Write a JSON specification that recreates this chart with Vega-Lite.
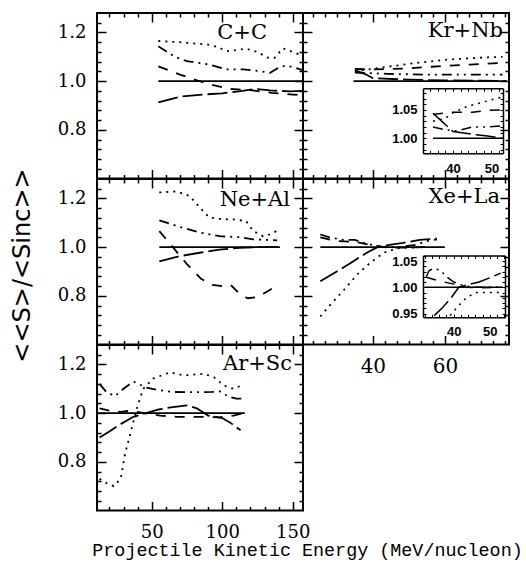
{
"$schema":"https://vega.github.io/schema/vega-lite/v6.json",
"background":"white",
"padding":{"left":8,"top":11,"right":2,"bottom":2},
"columns":2,"spacing":0,"bounds":"flush",
"config":{
 "view":{"stroke":"black","strokeWidth":2},
 "axis":{"grid":false,"domain":false,"ticks":true,"tickColor":"black","tickOpacity":1,"tickWidth":1.5,"labelColor":"black","titleColor":"black","labelFlush":false,"labelOverlap":false,"title":null},
 "point":{"opacity":0},
 "title":{"anchor":"end","frame":"group","baseline":"alphabetic","font":"DejaVu Serif","fontSize":21,"fontWeight":"normal","color":"black"}
},
"datasets":{
 "cc":[
  {"E":54.7,"r":1,"s":"solid"},{"E":157,"r":1,"s":"solid"},
  {"E":54.7,"r":1.165,"s":"dotted"},{"E":70,"r":1.16,"s":"dotted"},{"E":90,"r":1.15,"s":"dotted"},{"E":97,"r":1.14,"s":"dotted"},{"E":103,"r":1.123,"s":"dotted"},{"E":110,"r":1.128,"s":"dotted"},{"E":117,"r":1.133,"s":"dotted"},{"E":125,"r":1.12,"s":"dotted"},{"E":132,"r":1.097,"s":"dotted"},{"E":137,"r":1.095,"s":"dotted"},{"E":143,"r":1.135,"s":"dotted"},{"E":150,"r":1.12,"s":"dotted"},{"E":157,"r":1.105,"s":"dotted"},
  {"E":54.7,"r":1.143,"s":"dashdot"},{"E":66.5,"r":1.1,"s":"dashdot"},{"E":75,"r":1.082,"s":"dashdot"},{"E":91,"r":1.068,"s":"dashdot"},{"E":103,"r":1.048,"s":"dashdot"},{"E":115,"r":1.048,"s":"dashdot"},{"E":127,"r":1.041,"s":"dashdot"},{"E":134,"r":1.034,"s":"dashdot"},{"E":140,"r":1.055,"s":"dashdot"},{"E":145,"r":1.064,"s":"dashdot"},{"E":150,"r":1.058,"s":"dashdot"},{"E":157,"r":1.045,"s":"dashdot"},
  {"E":54.7,"r":1.061,"s":"dashed"},{"E":70,"r":1.027,"s":"dashed"},{"E":90,"r":0.988,"s":"dashed"},{"E":105,"r":0.968,"s":"dashed"},{"E":120,"r":0.963,"s":"dashed"},{"E":135,"r":0.952,"s":"dashed"},{"E":150,"r":0.945,"s":"dashed"},{"E":157,"r":0.943,"s":"dashed"},
  {"E":54.7,"r":0.913,"s":"longdash"},{"E":70,"r":0.936,"s":"longdash"},{"E":84,"r":0.944,"s":"longdash"},{"E":100,"r":0.95,"s":"longdash"},{"E":112,"r":0.958,"s":"longdash"},{"E":124,"r":0.968,"s":"longdash"},{"E":134,"r":0.962,"s":"longdash"},{"E":148,"r":0.958,"s":"longdash"},{"E":157,"r":0.96,"s":"longdash"}
 ],
 "ne":[
  {"E":55.4,"r":1,"s":"solid"},{"E":141,"r":1,"s":"solid"},
  {"E":55.4,"r":1.225,"s":"dotted"},{"E":67.7,"r":1.229,"s":"dotted"},{"E":77,"r":1.21,"s":"dotted"},{"E":84,"r":1.163,"s":"dotted"},{"E":91,"r":1.121,"s":"dotted"},{"E":100,"r":1.115,"s":"dotted"},{"E":108,"r":1.114,"s":"dotted"},{"E":117,"r":1.107,"s":"dotted"},{"E":122,"r":1.066,"s":"dotted"},{"E":129,"r":1.045,"s":"dotted"},{"E":134,"r":1.052,"s":"dotted"},{"E":139,"r":1.068,"s":"dotted"},
  {"E":55.4,"r":1.11,"s":"dashdot"},{"E":70,"r":1.083,"s":"dashdot"},{"E":84,"r":1.06,"s":"dashdot"},{"E":98,"r":1.045,"s":"dashdot"},{"E":112,"r":1.041,"s":"dashdot"},{"E":122,"r":1.032,"s":"dashdot"},{"E":130,"r":1.03,"s":"dashdot"},{"E":139,"r":1.028,"s":"dashdot"},
  {"E":55.4,"r":1.066,"s":"dashed"},{"E":65,"r":1.0,"s":"dashed"},{"E":75,"r":0.93,"s":"dashed"},{"E":85,"r":0.87,"s":"dashed"},{"E":93,"r":0.845,"s":"dashed"},{"E":100,"r":0.84,"s":"dashed"},{"E":106,"r":0.845,"s":"dashed"},{"E":112,"r":0.81,"s":"dashed"},{"E":118,"r":0.79,"s":"dashed"},{"E":125,"r":0.795,"s":"dashed"},{"E":131,"r":0.815,"s":"dashed"},{"E":136,"r":0.832,"s":"dashed"},
  {"E":55.4,"r":0.942,"s":"longdash"},{"E":70,"r":0.963,"s":"longdash"},{"E":84,"r":0.977,"s":"longdash"},{"E":98,"r":0.99,"s":"longdash"},{"E":112,"r":0.997,"s":"longdash"},{"E":125,"r":1.0,"s":"longdash"},{"E":141,"r":1.0,"s":"longdash"}
 ],
 "ar":[
  {"E":11.2,"r":1,"s":"solid"},{"E":116,"r":1,"s":"solid"},
  {"E":13,"r":0.73,"s":"dotted"},{"E":18,"r":0.712,"s":"dotted"},{"E":23,"r":0.7,"s":"dotted"},{"E":28,"r":0.73,"s":"dotted"},{"E":31,"r":0.83,"s":"dotted"},{"E":35,"r":0.92,"s":"dotted"},{"E":40,"r":1.03,"s":"dotted"},{"E":44,"r":1.1,"s":"dotted"},{"E":51,"r":1.142,"s":"dotted"},{"E":63,"r":1.168,"s":"dotted"},{"E":73,"r":1.155,"s":"dotted"},{"E":87,"r":1.162,"s":"dotted"},{"E":94,"r":1.148,"s":"dotted"},{"E":101,"r":1.114,"s":"dotted"},{"E":108,"r":1.1,"s":"dotted"},{"E":115,"r":1.117,"s":"dotted"},
  {"E":13,"r":1.12,"s":"dashdot"},{"E":18,"r":1.086,"s":"dashdot"},{"E":24,"r":1.07,"s":"dashdot"},{"E":30,"r":1.1,"s":"dashdot"},{"E":37,"r":1.13,"s":"dashdot"},{"E":46,"r":1.105,"s":"dashdot"},{"E":55,"r":1.095,"s":"dashdot"},{"E":65,"r":1.087,"s":"dashdot"},{"E":80,"r":1.086,"s":"dashdot"},{"E":93,"r":1.087,"s":"dashdot"},{"E":98,"r":1.09,"s":"dashdot"},{"E":105,"r":1.067,"s":"dashdot"},{"E":110,"r":1.06,"s":"dashdot"},{"E":116,"r":1.06,"s":"dashdot"},
  {"E":13,"r":1.02,"s":"dashed"},{"E":20,"r":1.01,"s":"dashed"},{"E":28,"r":1.005,"s":"dashed"},{"E":35,"r":1.01,"s":"dashed"},{"E":45,"r":1.0,"s":"dashed"},{"E":56,"r":0.99,"s":"dashed"},{"E":68,"r":0.985,"s":"dashed"},{"E":84,"r":0.985,"s":"dashed"},{"E":98,"r":0.983,"s":"dashed"},{"E":108,"r":0.99,"s":"dashed"},{"E":115,"r":1.0,"s":"dashed"},
  {"E":13,"r":0.9,"s":"longdash"},{"E":20,"r":0.925,"s":"longdash"},{"E":28,"r":0.955,"s":"longdash"},{"E":37,"r":0.985,"s":"longdash"},{"E":46,"r":1.0,"s":"longdash"},{"E":55,"r":1.015,"s":"longdash"},{"E":65,"r":1.025,"s":"longdash"},{"E":75,"r":1.032,"s":"longdash"},{"E":82,"r":1.02,"s":"longdash"},{"E":90,"r":0.99,"s":"longdash"},{"E":100,"r":0.98,"s":"longdash"},{"E":106,"r":0.96,"s":"longdash"},{"E":113,"r":0.93,"s":"longdash"}
 ],
 "kr":[
  {"E":34.6,"r":1,"s":"solid"},{"E":77.2,"r":1,"s":"solid"},
  {"E":35,"r":1.04,"s":"dotted"},{"E":42,"r":1.055,"s":"dotted"},{"E":52,"r":1.075,"s":"dotted"},{"E":61,"r":1.089,"s":"dotted"},{"E":72,"r":1.098,"s":"dotted"},{"E":76,"r":1.1,"s":"dotted"},
  {"E":35,"r":1.05,"s":"dashed"},{"E":40,"r":1.048,"s":"dashed"},{"E":49,"r":1.052,"s":"dashed"},{"E":58,"r":1.061,"s":"dashed"},{"E":67,"r":1.068,"s":"dashed"},{"E":76,"r":1.075,"s":"dashed"},
  {"E":35,"r":1.035,"s":"dashdot"},{"E":44,"r":1.03,"s":"dashdot"},{"E":54,"r":1.027,"s":"dashdot"},{"E":63,"r":1.027,"s":"dashdot"},{"E":76,"r":1.027,"s":"dashdot"},
  {"E":35,"r":1.045,"s":"longdash"},{"E":38,"r":1.028,"s":"longdash"},{"E":40,"r":1.012,"s":"longdash"},{"E":50,"r":1.006,"s":"longdash"},{"E":60,"r":1.003,"s":"longdash"},{"E":77,"r":1.001,"s":"longdash"}
 ],
 "krin":[
  {"E":34.8,"r":1,"s":"solid"},{"E":53,"r":1,"s":"solid"},
  {"E":34.8,"r":1.03,"s":"dotted"},{"E":38,"r":1.035,"s":"dotted"},{"E":40,"r":1.045,"s":"dotted"},{"E":44,"r":1.057,"s":"dotted"},{"E":48,"r":1.064,"s":"dotted"},{"E":53,"r":1.073,"s":"dotted"},
  {"E":34.8,"r":1.042,"s":"dashed"},{"E":40,"r":1.046,"s":"dashed"},{"E":45,"r":1.046,"s":"dashed"},{"E":49,"r":1.049,"s":"dashed"},{"E":53,"r":1.05,"s":"dashed"},
  {"E":34.8,"r":1.02,"s":"dashdot"},{"E":38,"r":1.015,"s":"dashdot"},{"E":41,"r":1.013,"s":"dashdot"},{"E":45,"r":1.02,"s":"dashdot"},{"E":49,"r":1.02,"s":"dashdot"},{"E":53,"r":1.022,"s":"dashdot"},
  {"E":34.8,"r":1.044,"s":"longdash"},{"E":37.4,"r":1.028,"s":"longdash"},{"E":40,"r":1.012,"s":"longdash"},{"E":45,"r":1.007,"s":"longdash"},{"E":49,"r":1.004,"s":"longdash"},{"E":53,"r":1.0,"s":"longdash"}
 ],
 "xe":[
  {"E":25.4,"r":1,"s":"solid"},{"E":60,"r":1,"s":"solid"},
  {"E":25.4,"r":0.715,"s":"dotted"},{"E":28,"r":0.76,"s":"dotted"},{"E":32,"r":0.825,"s":"dotted"},{"E":35.6,"r":0.887,"s":"dotted"},{"E":39.2,"r":0.935,"s":"dotted"},{"E":43,"r":0.977,"s":"dotted"},{"E":46.7,"r":0.995,"s":"dotted"},{"E":50,"r":0.998,"s":"dotted"},{"E":52.2,"r":0.997,"s":"dotted"},
  {"E":25.4,"r":0.86,"s":"longdash"},{"E":30,"r":0.9,"s":"longdash"},{"E":34.6,"r":0.942,"s":"longdash"},{"E":38.3,"r":0.977,"s":"longdash"},{"E":41,"r":0.998,"s":"longdash"},{"E":45,"r":1.01,"s":"longdash"},{"E":48.5,"r":1.018,"s":"longdash"},{"E":53,"r":1.03,"s":"longdash"},{"E":57.8,"r":1.035,"s":"longdash"},
  {"E":25.4,"r":1.052,"s":"dashdot"},{"E":28,"r":1.04,"s":"dashdot"},{"E":31.8,"r":1.03,"s":"dashdot"},{"E":35,"r":1.03,"s":"dashdot"},{"E":38,"r":1.015,"s":"dashdot"},{"E":41,"r":1.005,"s":"dashdot"},{"E":43,"r":1.0,"s":"dashdot"},{"E":47,"r":1.0,"s":"dashdot"},{"E":52,"r":1.01,"s":"dashdot"},{"E":55,"r":1.025,"s":"dashdot"},{"E":57.8,"r":1.032,"s":"dashdot"},
  {"E":25.4,"r":1.04,"s":"dashed"},{"E":30,"r":1.025,"s":"dashed"},{"E":35,"r":1.022,"s":"dashed"},{"E":39,"r":1.01,"s":"dashed"},{"E":43,"r":1.0,"s":"dashed"},{"E":47,"r":0.998,"s":"dashed"},{"E":52,"r":0.999,"s":"dashed"},{"E":55,"r":1.0,"s":"dashed"}
 ],
 "xein":[
  {"E":32,"r":1,"s":"solid"},{"E":53.5,"r":1,"s":"solid"},
  {"E":32.4,"r":1.02,"s":"dashdot"},{"E":33.2,"r":1.032,"s":"dashdot"},{"E":34.6,"r":1.036,"s":"dashdot"},{"E":36.4,"r":1.032,"s":"dashdot"},{"E":38,"r":1.02,"s":"dashdot"},{"E":40,"r":1.01,"s":"dashdot"},{"E":42.7,"r":1.003,"s":"dashdot"},{"E":46,"r":1.0,"s":"dashdot"},{"E":50,"r":1.0,"s":"dashdot"},{"E":53.5,"r":1.001,"s":"dashdot"},
  {"E":32.4,"r":1.019,"s":"dashed"},{"E":36,"r":1.012,"s":"dashed"},{"E":40,"r":1.006,"s":"dashed"},{"E":43,"r":1.0,"s":"dashed"},{"E":47,"r":0.999,"s":"dashed"},{"E":53.5,"r":1.0,"s":"dashed"},
  {"E":34.6,"r":0.946,"s":"longdash"},{"E":37,"r":0.962,"s":"longdash"},{"E":39.1,"r":0.978,"s":"longdash"},{"E":41.4,"r":1.0,"s":"longdash"},{"E":44,"r":1.005,"s":"longdash"},{"E":47,"r":1.01,"s":"longdash"},{"E":50,"r":1.018,"s":"longdash"},{"E":53,"r":1.027,"s":"longdash"},
  {"E":39,"r":0.946,"s":"dotted"},{"E":41.4,"r":0.965,"s":"dotted"},{"E":43.6,"r":0.981,"s":"dotted"},{"E":46.3,"r":0.99,"s":"dotted"},{"E":50,"r":0.99,"s":"dotted"},{"E":53.5,"r":0.99,"s":"dotted"}
 ]
},
"concat":[
 {"width":206,"height":165.5,
  "title":{"text":"C+C","offset":-31,"dx":-36},
  "data":{"name":"cc"},
  "resolve":{"axis":{"x":"independent","y":"independent"}},
  "layer":[
   {"mark":{"type":"line","strokeWidth":1.8,"color":"black"},
    "encoding":{
     "x":{"field":"E","type":"quantitative","scale":{"domain":[11.2,157.3],"nice":false,"zero":false},"axis":{"orient":"bottom","offset":-9,"tickSize":9,"labels":false,"values":[50,100,150]}},
     "y":{"field":"r","type":"quantitative","scale":{"domain":[0.6,1.28],"nice":false,"zero":false},"axis":{"orient":"left","offset":-9,"tickSize":9,"values":[0.8,1,1.2],"format":".1f","labelFont":"DejaVu Serif","labelFontSize":18,"labelPadding":11}},
     "strokeDash":{"field":"s","type":"nominal","legend":null,"scale":{"domain":["solid","dotted","dashdot","dashed","longdash"],"range":[[1,0],[2,5],[10,5,2,5,2,5],[10,9],[20,5]]}}}},
   {"mark":"point","encoding":{
     "x":{"field":"E","type":"quantitative","scale":{"domain":[11.2,157.3],"nice":false,"zero":false},"axis":{"orient":"bottom","offset":-4,"tickSize":4,"labels":false,"values":[20,30,40,60,70,80,90,110,120,130,140]}},
     "y":{"field":"r","type":"quantitative","scale":{"domain":[0.6,1.28],"nice":false,"zero":false},"axis":{"orient":"left","offset":-4,"tickSize":4,"labels":false,"values":[0.64,0.68,0.72,0.76,0.84,0.88,0.92,0.96,1.04,1.08,1.12,1.16,1.24]}}}},
   {"mark":"point","encoding":{
     "x":{"field":"E","type":"quantitative","scale":{"domain":[11.2,157.3],"nice":false,"zero":false},"axis":{"orient":"top","offset":-9,"tickSize":9,"labels":false,"values":[50,100,150]}},
     "y":{"field":"r","type":"quantitative","scale":{"domain":[0.6,1.28],"nice":false,"zero":false},"axis":{"orient":"right","offset":-9,"tickSize":9,"labels":false,"values":[0.8,1,1.2]}}}},
   {"mark":"point","encoding":{
     "x":{"field":"E","type":"quantitative","scale":{"domain":[11.2,157.3],"nice":false,"zero":false},"axis":{"orient":"top","offset":-4,"tickSize":4,"labels":false,"values":[20,30,40,60,70,80,90,110,120,130,140]}},
     "y":{"field":"r","type":"quantitative","scale":{"domain":[0.6,1.28],"nice":false,"zero":false},"axis":{"orient":"right","offset":-4,"tickSize":4,"labels":false,"values":[0.64,0.68,0.72,0.76,0.84,0.88,0.92,0.96,1.04,1.08,1.12,1.16,1.24]}}}}
  ]},
 {"width":206,"height":165.5,
  "title":{"text":"Kr+Nb","offset":-29,"dx":-6},
  "resolve":{"scale":{"x":"independent","y":"independent"},"axis":{"x":"independent","y":"independent"}},
  "layer":[
   {"data":{"name":"kr"},"mark":{"type":"line","strokeWidth":1.8,"color":"black"},
    "encoding":{
     "x":{"field":"E","type":"quantitative","scale":{"domain":[20.6,77.8],"nice":false,"zero":false},"axis":{"orient":"bottom","offset":-9,"tickSize":9,"labels":false,"values":[40,60]}},
     "y":{"field":"r","type":"quantitative","scale":{"domain":[0.6,1.28],"nice":false,"zero":false},"axis":{"orient":"left","offset":-9,"tickSize":9,"labels":false,"values":[0.8,1,1.2]}},
     "strokeDash":{"field":"s","type":"nominal","legend":null,"scale":{"domain":["solid","dotted","dashdot","dashed","longdash"],"range":[[1,0],[2,5],[10,5,2,5,2,5],[10,9],[20,5]]}}}},
   {"data":{"name":"kr"},"mark":"point","encoding":{
     "x":{"field":"E","type":"quantitative","scale":{"domain":[20.6,77.8],"nice":false,"zero":false},"axis":{"orient":"bottom","offset":-4,"tickSize":4,"labels":false,"values":[23.33,26.67,30,33.33,36.67,43.33,46.67,50,53.33,56.67,63.33,66.67,70,73.33,76.67]}},
     "y":{"field":"r","type":"quantitative","scale":{"domain":[0.6,1.28],"nice":false,"zero":false},"axis":{"orient":"left","offset":-4,"tickSize":4,"labels":false,"values":[0.64,0.68,0.72,0.76,0.84,0.88,0.92,0.96,1.04,1.08,1.12,1.16,1.24]}}}},
   {"data":{"name":"kr"},"mark":"point","encoding":{
     "x":{"field":"E","type":"quantitative","scale":{"domain":[20.6,77.8],"nice":false,"zero":false},"axis":{"orient":"top","offset":-9,"tickSize":9,"labels":false,"values":[40,60]}},
     "y":{"field":"r","type":"quantitative","scale":{"domain":[0.6,1.28],"nice":false,"zero":false},"axis":{"orient":"right","offset":-9,"tickSize":9,"labels":false,"values":[0.8,1,1.2]}}}},
   {"data":{"name":"kr"},"mark":"point","encoding":{
     "x":{"field":"E","type":"quantitative","scale":{"domain":[20.6,77.8],"nice":false,"zero":false},"axis":{"orient":"top","offset":-4,"tickSize":4,"labels":false,"values":[23.33,26.67,30,33.33,36.67,43.33,46.67,50,53.33,56.67,63.33,66.67,70,73.33,76.67]}},
     "y":{"field":"r","type":"quantitative","scale":{"domain":[0.6,1.28],"nice":false,"zero":false},"axis":{"orient":"right","offset":-4,"tickSize":4,"labels":false,"values":[0.64,0.68,0.72,0.76,0.84,0.88,0.92,0.96,1.04,1.08,1.12,1.16,1.24]}}}},
   {"data":{"name":"krin"},"mark":{"type":"line","strokeWidth":1.5,"color":"black"},
    "encoding":{
     "x":{"field":"E","type":"quantitative","scale":{"domain":[32.2,53],"range":[120,200],"nice":false,"zero":false},
          "axis":{"orient":"bottom","offset":-25.2,"ticks":false,"domain":true,"domainColor":"black","domainWidth":1.5,"values":[40,50],"labelFont":"Liberation Sans","labelFontSize":13,"labelFontWeight":"bold","labelPadding":9}},
     "y":{"field":"r","type":"quantitative","scale":{"domain":[0.9735,1.088],"range":[140.3,75.3],"nice":false,"zero":false},
          "axis":{"orient":"left","offset":-120,"ticks":false,"domain":true,"domainColor":"black","domainWidth":1.5,"values":[1,1.05],"format":".2f","labelFont":"Liberation Sans","labelFontSize":13,"labelFontWeight":"bold","labelPadding":6}},
     "strokeDash":{"field":"s","type":"nominal","legend":null,"scale":{"domain":["solid","dotted","dashdot","dashed","longdash"],"range":[[1,0],[2,5],[10,5,2,5,2,5],[10,9],[20,5]]}}}},
   {"data":{"name":"krin"},"mark":"point","encoding":{
     "x":{"field":"E","type":"quantitative","scale":{"domain":[32.2,53],"range":[120,200],"nice":false,"zero":false},"axis":{"orient":"bottom","offset":-28.2,"tickSize":3,"tickWidth":1,"labels":false,"values":[34,36,38,40,42,44,46,48,50,52]}},
     "y":{"field":"r","type":"quantitative","scale":{"domain":[0.9735,1.088],"range":[140.3,75.3],"nice":false,"zero":false},"axis":{"orient":"left","offset":-123,"tickSize":3,"tickWidth":1,"labels":false,"values":[0.98,0.99,1,1.01,1.02,1.03,1.04,1.05,1.06,1.07,1.08]}}}},
   {"data":{"name":"krin"},"mark":"point","encoding":{
     "x":{"field":"E","type":"quantitative","scale":{"domain":[32.2,53],"range":[120,200],"nice":false,"zero":false},"axis":{"orient":"top","offset":-75.3,"ticks":false,"labels":false,"domain":true,"domainColor":"black","domainWidth":1.5}},
     "y":{"field":"r","type":"quantitative","scale":{"domain":[0.9735,1.088],"range":[140.3,75.3],"nice":false,"zero":false},"axis":{"orient":"right","offset":-6,"ticks":false,"labels":false,"domain":true,"domainColor":"black","domainWidth":1.5}}}},
   {"data":{"name":"krin"},"mark":"point","encoding":{
     "x":{"field":"E","type":"quantitative","scale":{"domain":[32.2,53],"range":[120,200],"nice":false,"zero":false},"axis":{"orient":"top","offset":-78.3,"tickSize":3,"tickWidth":1,"labels":false,"values":[34,36,38,40,42,44,46,48,50,52]}},
     "y":{"field":"r","type":"quantitative","scale":{"domain":[0.9735,1.088],"range":[140.3,75.3],"nice":false,"zero":false},"axis":{"orient":"right","offset":-9,"tickSize":3,"tickWidth":1,"labels":false,"values":[0.98,0.99,1,1.01,1.02,1.03,1.04,1.05,1.06,1.07,1.08]}}}}
  ]},
 {"width":206,"height":165.5,
  "title":{"text":"Ne+Al","offset":-42,"dx":-13},
  "data":{"name":"ne"},
  "resolve":{"axis":{"x":"independent","y":"independent"}},
  "layer":[
   {"mark":{"type":"line","strokeWidth":1.8,"color":"black"},
    "encoding":{
     "x":{"field":"E","type":"quantitative","scale":{"domain":[11.2,157.3],"nice":false,"zero":false},"axis":{"orient":"bottom","offset":-9,"tickSize":9,"labels":false,"values":[50,100,150]}},
     "y":{"field":"r","type":"quantitative","scale":{"domain":[0.6,1.28],"nice":false,"zero":false},
          "axis":{"orient":"left","offset":-9,"tickSize":9,"values":[0.8,1,1.2],"format":".1f","labelFont":"DejaVu Serif","labelFontSize":18,"labelPadding":11,
                  "title":"<<S>/<Sinc>>","titleFont":"DejaVu Sans","titleFontSize":24,"titleFontWeight":"normal","titleAngle":-90,"titleAlign":"center","titleBaseline":"alphabetic","titleX":-77,"titleY":86}},
     "strokeDash":{"field":"s","type":"nominal","legend":null,"scale":{"domain":["solid","dotted","dashdot","dashed","longdash"],"range":[[1,0],[2,5],[10,5,2,5,2,5],[10,9],[20,5]]}}}},
   {"mark":"point","encoding":{
     "x":{"field":"E","type":"quantitative","scale":{"domain":[11.2,157.3],"nice":false,"zero":false},"axis":{"orient":"bottom","offset":-4,"tickSize":4,"labels":false,"values":[20,30,40,60,70,80,90,110,120,130,140]}},
     "y":{"field":"r","type":"quantitative","scale":{"domain":[0.6,1.28],"nice":false,"zero":false},"axis":{"orient":"left","offset":-4,"tickSize":4,"labels":false,"values":[0.64,0.68,0.72,0.76,0.84,0.88,0.92,0.96,1.04,1.08,1.12,1.16,1.24]}}}},
   {"mark":"point","encoding":{
     "x":{"field":"E","type":"quantitative","scale":{"domain":[11.2,157.3],"nice":false,"zero":false},"axis":{"orient":"top","offset":-9,"tickSize":9,"labels":false,"values":[50,100,150]}},
     "y":{"field":"r","type":"quantitative","scale":{"domain":[0.6,1.28],"nice":false,"zero":false},"axis":{"orient":"right","offset":-9,"tickSize":9,"labels":false,"values":[0.8,1,1.2]}}}},
   {"mark":"point","encoding":{
     "x":{"field":"E","type":"quantitative","scale":{"domain":[11.2,157.3],"nice":false,"zero":false},"axis":{"orient":"top","offset":-4,"tickSize":4,"labels":false,"values":[20,30,40,60,70,80,90,110,120,130,140]}},
     "y":{"field":"r","type":"quantitative","scale":{"domain":[0.6,1.28],"nice":false,"zero":false},"axis":{"orient":"right","offset":-4,"tickSize":4,"labels":false,"values":[0.64,0.68,0.72,0.76,0.84,0.88,0.92,0.96,1.04,1.08,1.12,1.16,1.24]}}}}
  ]},
 {"width":206,"height":165.5,
  "title":{"text":"Xe+La","offset":-29,"dx":-9},
  "resolve":{"scale":{"x":"independent","y":"independent"},"axis":{"x":"independent","y":"independent"}},
  "layer":[
   {"data":{"name":"xe"},"mark":{"type":"line","strokeWidth":1.8,"color":"black"},
    "encoding":{
     "x":{"field":"E","type":"quantitative","scale":{"domain":[20.6,77.8],"nice":false,"zero":false},"axis":{"orient":"bottom","offset":-9,"tickSize":9,"values":[40,60],"format":".0f","labelFont":"DejaVu Serif","labelFontSize":20,"labelPadding":12}},
     "y":{"field":"r","type":"quantitative","scale":{"domain":[0.6,1.28],"nice":false,"zero":false},"axis":{"orient":"left","offset":-9,"tickSize":9,"labels":false,"values":[0.8,1,1.2]}},
     "strokeDash":{"field":"s","type":"nominal","legend":null,"scale":{"domain":["solid","dotted","dashdot","dashed","longdash"],"range":[[1,0],[2,5],[10,5,2,5,2,5],[10,9],[20,5]]}}}},
   {"data":{"name":"xe"},"mark":"point","encoding":{
     "x":{"field":"E","type":"quantitative","scale":{"domain":[20.6,77.8],"nice":false,"zero":false},"axis":{"orient":"bottom","offset":-4,"tickSize":4,"labels":false,"values":[23.33,26.67,30,33.33,36.67,43.33,46.67,50,53.33,56.67,63.33,66.67,70,73.33,76.67]}},
     "y":{"field":"r","type":"quantitative","scale":{"domain":[0.6,1.28],"nice":false,"zero":false},"axis":{"orient":"left","offset":-4,"tickSize":4,"labels":false,"values":[0.64,0.68,0.72,0.76,0.84,0.88,0.92,0.96,1.04,1.08,1.12,1.16,1.24]}}}},
   {"data":{"name":"xe"},"mark":"point","encoding":{
     "x":{"field":"E","type":"quantitative","scale":{"domain":[20.6,77.8],"nice":false,"zero":false},"axis":{"orient":"top","offset":-9,"tickSize":9,"labels":false,"values":[40,60]}},
     "y":{"field":"r","type":"quantitative","scale":{"domain":[0.6,1.28],"nice":false,"zero":false},"axis":{"orient":"right","offset":-9,"tickSize":9,"labels":false,"values":[0.8,1,1.2]}}}},
   {"data":{"name":"xe"},"mark":"point","encoding":{
     "x":{"field":"E","type":"quantitative","scale":{"domain":[20.6,77.8],"nice":false,"zero":false},"axis":{"orient":"top","offset":-4,"tickSize":4,"labels":false,"values":[23.33,26.67,30,33.33,36.67,43.33,46.67,50,53.33,56.67,63.33,66.67,70,73.33,76.67]}},
     "y":{"field":"r","type":"quantitative","scale":{"domain":[0.6,1.28],"nice":false,"zero":false},"axis":{"orient":"right","offset":-4,"tickSize":4,"labels":false,"values":[0.64,0.68,0.72,0.76,0.84,0.88,0.92,0.96,1.04,1.08,1.12,1.16,1.24]}}}},
   {"data":{"name":"xein"},"mark":{"type":"line","strokeWidth":1.5,"color":"black"},
    "encoding":{
     "x":{"field":"E","type":"quantitative","scale":{"domain":[31.5,54.2],"range":[120,202],"nice":false,"zero":false},
          "axis":{"orient":"bottom","offset":-27.3,"ticks":false,"domain":true,"domainColor":"black","domainWidth":1.5,"values":[40,50],"labelFont":"Liberation Sans","labelFontSize":13,"labelFontWeight":"bold","labelPadding":8}},
     "y":{"field":"r","type":"quantitative","scale":{"domain":[0.943,1.0605],"range":[138.2,76.5],"nice":false,"zero":false},
          "axis":{"orient":"left","offset":-120,"ticks":false,"domain":true,"domainColor":"black","domainWidth":1.5,"values":[0.95,1,1.05],"format":".2f","labelFont":"Liberation Sans","labelFontSize":13,"labelFontWeight":"bold","labelPadding":6}},
     "strokeDash":{"field":"s","type":"nominal","legend":null,"scale":{"domain":["solid","dotted","dashdot","dashed","longdash"],"range":[[1,0],[2,5],[10,5,2,5,2,5],[10,9],[20,5]]}}}},
   {"data":{"name":"xein"},"mark":"point","encoding":{
     "x":{"field":"E","type":"quantitative","scale":{"domain":[31.5,54.2],"range":[120,202],"nice":false,"zero":false},"axis":{"orient":"bottom","offset":-30.3,"tickSize":3,"tickWidth":1,"labels":false,"values":[32,34,36,38,40,42,44,46,48,50,52,54]}},
     "y":{"field":"r","type":"quantitative","scale":{"domain":[0.943,1.0605],"range":[138.2,76.5],"nice":false,"zero":false},"axis":{"orient":"left","offset":-123,"tickSize":3,"tickWidth":1,"labels":false,"values":[0.95,0.96,0.97,0.98,0.99,1,1.01,1.02,1.03,1.04,1.05,1.06]}}}},
   {"data":{"name":"xein"},"mark":"point","encoding":{
     "x":{"field":"E","type":"quantitative","scale":{"domain":[31.5,54.2],"range":[120,202],"nice":false,"zero":false},"axis":{"orient":"top","offset":-76.5,"ticks":false,"labels":false,"domain":true,"domainColor":"black","domainWidth":1.5}},
     "y":{"field":"r","type":"quantitative","scale":{"domain":[0.943,1.0605],"range":[138.2,76.5],"nice":false,"zero":false},"axis":{"orient":"right","offset":-4,"ticks":false,"labels":false,"domain":true,"domainColor":"black","domainWidth":1.5}}}},
   {"data":{"name":"xein"},"mark":"point","encoding":{
     "x":{"field":"E","type":"quantitative","scale":{"domain":[31.5,54.2],"range":[120,202],"nice":false,"zero":false},"axis":{"orient":"top","offset":-79.5,"tickSize":3,"tickWidth":1,"labels":false,"values":[32,34,36,38,40,42,44,46,48,50,52,54]}},
     "y":{"field":"r","type":"quantitative","scale":{"domain":[0.943,1.0605],"range":[138.2,76.5],"nice":false,"zero":false},"axis":{"orient":"right","offset":-7,"tickSize":3,"tickWidth":1,"labels":false,"values":[0.95,0.96,0.97,0.98,0.99,1,1.01,1.02,1.03,1.04,1.05,1.06]}}}}
  ]},
 {"width":206,"height":165.5,
  "title":{"text":"Ar+Sc","offset":-30,"dx":-11},
  "data":{"name":"ar"},
  "resolve":{"axis":{"x":"independent","y":"independent"}},
  "layer":[
   {"mark":{"type":"line","strokeWidth":1.8,"color":"black"},
    "encoding":{
     "x":{"field":"E","type":"quantitative","scale":{"domain":[11.2,157.3],"nice":false,"zero":false},
          "axis":{"orient":"bottom","offset":-9,"tickSize":9,"values":[50,100,150],"labelFont":"DejaVu Serif","labelFontSize":18,"labelPadding":13,
                  "title":"Projectile Kinetic Energy (MeV/nucleon)","titleFont":"Liberation Mono","titleFontSize":18.4,"titleFontWeight":"normal","titleX":210,"titleY":54,"titleAlign":"center","titleBaseline":"alphabetic","titleAngle":0}},
     "y":{"field":"r","type":"quantitative","scale":{"domain":[0.6,1.28],"nice":false,"zero":false},"axis":{"orient":"left","offset":-9,"tickSize":9,"values":[0.8,1,1.2],"format":".1f","labelFont":"DejaVu Serif","labelFontSize":18,"labelPadding":11}},
     "strokeDash":{"field":"s","type":"nominal","legend":null,"scale":{"domain":["solid","dotted","dashdot","dashed","longdash"],"range":[[1,0],[2,5],[10,5,2,5,2,5],[10,9],[20,5]]}}}},
   {"mark":"point","encoding":{
     "x":{"field":"E","type":"quantitative","scale":{"domain":[11.2,157.3],"nice":false,"zero":false},"axis":{"orient":"bottom","offset":-4,"tickSize":4,"labels":false,"values":[20,30,40,60,70,80,90,110,120,130,140]}},
     "y":{"field":"r","type":"quantitative","scale":{"domain":[0.6,1.28],"nice":false,"zero":false},"axis":{"orient":"left","offset":-4,"tickSize":4,"labels":false,"values":[0.64,0.68,0.72,0.76,0.84,0.88,0.92,0.96,1.04,1.08,1.12,1.16,1.24]}}}},
   {"mark":"point","encoding":{
     "x":{"field":"E","type":"quantitative","scale":{"domain":[11.2,157.3],"nice":false,"zero":false},"axis":{"orient":"top","offset":-9,"tickSize":9,"labels":false,"values":[50,100,150]}},
     "y":{"field":"r","type":"quantitative","scale":{"domain":[0.6,1.28],"nice":false,"zero":false},"axis":{"orient":"right","offset":-9,"tickSize":9,"labels":false,"values":[0.8,1,1.2]}}}},
   {"mark":"point","encoding":{
     "x":{"field":"E","type":"quantitative","scale":{"domain":[11.2,157.3],"nice":false,"zero":false},"axis":{"orient":"top","offset":-4,"tickSize":4,"labels":false,"values":[20,30,40,60,70,80,90,110,120,130,140]}},
     "y":{"field":"r","type":"quantitative","scale":{"domain":[0.6,1.28],"nice":false,"zero":false},"axis":{"orient":"right","offset":-4,"tickSize":4,"labels":false,"values":[0.64,0.68,0.72,0.76,0.84,0.88,0.92,0.96,1.04,1.08,1.12,1.16,1.24]}}}}
  ]}
]
}
